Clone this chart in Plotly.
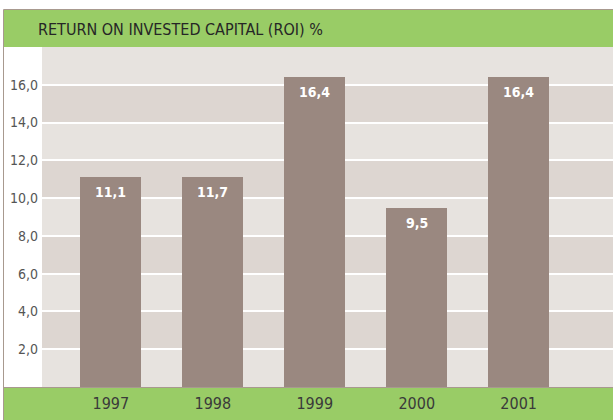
import plotly.graph_objects as go

years = ["1997", "1998", "1999", "2000", "2001"]
values = [11.1, 11.1, 16.4, 9.5, 16.4]
value_labels = ["11,1", "11,7", "16,4", "9,5", "16,4"]
tick_vals = [2, 4, 6, 8, 10, 12, 14, 16]
tick_text = ["2,0", "4,0", "6,0", "8,0", "10,0", "12,0", "14,0", "16,0"]
title = "RETURN ON INVESTED CAPITAL (ROI) %"

W, H = 613, 420
ML, MR, MT, MB = 42, 0, 47, 33
PW, PH = W - ML - MR, H - MT - MB

def px_x(x):
    return (x - ML) / PW

def px_y(y):
    return 1 - (y - MT) / PH

GREEN = "#99cc66"
BAR = "#9a8880"
LIGHT = "#e7e3df"
DARK = "#ddd6d1"
BORDER = "#a8998f"
FONT = "DejaVu Sans Condensed"

fig = go.Figure()
fig.add_trace(go.Bar(x=list(range(len(years))), y=values, width=0.6,
                     marker=dict(color=BAR, line=dict(width=0)),
                     hoverinfo="skip"))

shapes = []
# alternating bands
for lo in range(0, 18, 2):
    shapes.append(dict(type="rect", xref="paper", yref="y", x0=0, x1=1,
                       y0=lo, y1=lo + 2, fillcolor=(DARK if (lo // 2) % 2 == 1 else LIGHT),
                       line=dict(width=0), layer="below"))
# header green
shapes.append(dict(type="rect", xref="paper", yref="paper", x0=px_x(4), x1=px_x(W + 5),
                   y0=px_y(47), y1=px_y(9.5), fillcolor=GREEN, line=dict(width=0), layer="below"))
# bottom green
shapes.append(dict(type="rect", xref="paper", yref="paper", x0=px_x(4), x1=px_x(W + 5),
                   y0=px_y(388), y1=px_y(H + 5), fillcolor=GREEN, line=dict(width=0), layer="below"))
# borders
shapes.append(dict(type="line", xref="paper", yref="paper", x0=px_x(3.5), x1=px_x(W + 5),
                   y0=px_y(9.5), y1=px_y(9.5), line=dict(color=BORDER, width=1), layer="above"))
shapes.append(dict(type="line", xref="paper", yref="paper", x0=px_x(3.5), x1=px_x(3.5),
                   y0=px_y(9.5), y1=px_y(H + 5), line=dict(color=BORDER, width=1), layer="above"))
shapes.append(dict(type="line", xref="paper", yref="paper", x0=px_x(4), x1=px_x(W + 5),
                   y0=px_y(387.5), y1=px_y(387.5), line=dict(color=BORDER, width=1), layer="above"))

annotations = [dict(x=px_x(36), y=px_y(29.5), xref="paper", yref="paper", xanchor="left",
                    yanchor="middle", text=title, showarrow=False,
                    font=dict(family=FONT, size=16, color="#262626"))]
for i, (v, lab) in enumerate(zip(values, value_labels)):
    annotations.append(dict(x=i, y=v, xref="x", yref="y", text="<b>%s</b>" % lab,
                            showarrow=False, yshift=-15, yanchor="middle",
                            font=dict(family=FONT, size=14, color="white")))

fig.update_layout(
    width=W, height=H, margin=dict(l=ML, r=MR, t=MT, b=MB),
    paper_bgcolor="white", plot_bgcolor=LIGHT, showlegend=False,
    bargap=0, shapes=shapes, annotations=annotations,
    xaxis=dict(range=[-0.675, 4.925], tickvals=list(range(len(years))), ticktext=years,
               showgrid=False, zeroline=False, showline=False, ticks="",
               tickfont=dict(family=FONT, size=16, color="#3a3a3a"), ticklabelstandoff=5),
    yaxis=dict(range=[0, 18], tickvals=tick_vals, ticktext=tick_text,
               showgrid=True, gridcolor="white", gridwidth=2, zeroline=False,
               showline=False, ticks="", ticklabelstandoff=3,
               tickfont=dict(family=FONT, size=14, color="#555555")),
)
fig.write_html("out.html", config={"displayModeBar": False},
               post_script="document.body.style.margin='0';document.body.style.overflow='hidden';")
